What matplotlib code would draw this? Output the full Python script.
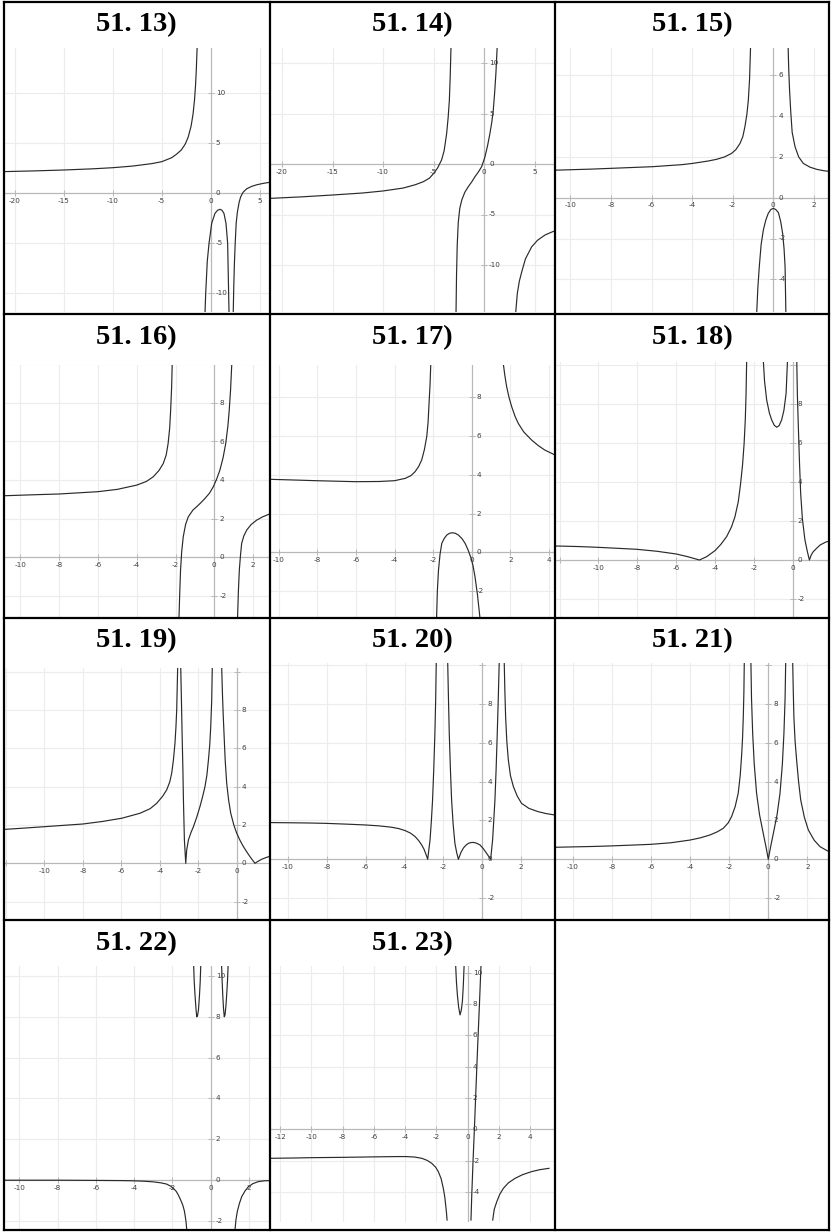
import matplotlib
matplotlib.use("Agg")
import matplotlib.pyplot as plt
from matplotlib.lines import Line2D
from matplotlib.transforms import offset_copy

# ---------------- data ----------------
# 51.13
x13a = [-21.0, -18, -15, -12, -10, -8, -6, -5, -4, -3.5, -3.0, -2.6, -2.3, -2.0, -1.8, -1.65, -1.55, -1.47, -1.4, -1.35]
y13a = [2.17, 2.24, 2.33, 2.45, 2.56, 2.72, 2.97, 3.16, 3.55, 3.9, 4.33, 4.92, 5.61, 6.72, 7.93, 9.35, 10.75, 12.3, 14.2, 15.5]
x13b = [-0.58, -0.51, -0.35, -0.17, 0.1, 0.44, 0.7, 0.95, 1.15, 1.35, 1.56, 1.73, 1.83, 1.87]
y13b = [-11.9, -10, -6.8, -5, -3, -2, -1.7, -1.6, -1.7, -2, -3, -5, -10, -11.9]
x13c = [2.3, 2.35, 2.42, 2.5, 2.6, 2.72, 2.9, 3.06, 3.3, 3.67, 4.2, 4.69, 5.3, 6.0]
y13c = [-11.9, -9.5, -7, -5, -3, -1.9, -0.9, -0.35, 0.1, 0.45, 0.7, 0.85, 0.98, 1.1]
# 51.14
x14a = [-21.1, -18, -15, -12, -10, -8, -6.8, -6, -5.4, -5, -4.6, -4.2, -3.95, -3.7, -3.55, -3.43, -3.35, -3.27]
y14a = [-3.4, -3.25, -3.07, -2.87, -2.67, -2.38, -2.05, -1.75, -1.4, -0.95, -0.4, 0.4, 1.3, 3.0, 4.6, 6.3, 8.5, 11.5]
x14b = [-2.77, -2.72, -2.65, -2.55, -2.4, -2.2, -1.9, -1.55, -1.2, -0.89, -0.55, -0.23, 0.1, 0.35, 0.59, 0.78, 0.92, 1.05, 1.18, 1.3]
y14b = [-14.7, -11, -8, -5.8, -4.4, -3.56, -2.8, -2.24, -1.75, -1.25, -0.78, -0.26, 0.73, 1.8, 3.04, 4.2, 5.35, 7.0, 9.0, 11.5]
x14c = [3.14, 3.3, 3.5, 3.73, 4.1, 4.72, 5.3, 6.04, 6.8, 7.52]
y14c = [-14.7, -12.8, -11.6, -10.7, -9.4, -8.2, -7.55, -7.03, -6.7, -6.47]
# 51.15
x15a = [-10.72, -9, -7.98, -5.95, -4.5, -3.98, -3.2, -2.8, -2.4, -2.06, -1.85, -1.64, -1.5, -1.4, -1.3, -1.23, -1.17, -1.12]
y15a = [1.35, 1.4, 1.44, 1.52, 1.62, 1.68, 1.8, 1.88, 2.0, 2.17, 2.35, 2.66, 3.0, 3.47, 4.1, 4.78, 5.8, 7.4]
x15b = [0.73, 0.76, 0.8, 0.86, 0.93, 1.07, 1.25, 1.48, 1.8, 2.14, 2.5, 2.94]
y15b = [7.4, 6.3, 5.3, 4.2, 3.2, 2.5, 2.0, 1.68, 1.5, 1.39, 1.32, 1.27]
x15c = [-0.82, -0.76, -0.69, -0.6, -0.49, -0.37, -0.25, -0.12, 0.0, 0.12, 0.25, 0.36, 0.46, 0.53, 0.58, 0.62]
y15c = [-5.7, -4.4, -3.38, -2.3, -1.58, -1.1, -0.77, -0.58, -0.52, -0.58, -0.73, -1.15, -1.75, -2.5, -3.38, -5.7]
# 51.16
x16a = [-10.81, -9, -8, -6, -5, -4, -3.5, -3.15, -2.85, -2.63, -2.48, -2.38, -2.3, -2.25, -2.2, -2.17]
y16a = [3.19, 3.25, 3.28, 3.40, 3.52, 3.74, 3.93, 4.17, 4.5, 4.86, 5.3, 5.9, 6.7, 7.62, 8.8, 10.0]
x16b = [-1.82, -1.78, -1.74, -1.68, -1.6, -1.48, -1.34, -1.1, -0.91, -0.7, -0.48, -0.25, -0.05, 0.12, 0.29, 0.45, 0.59, 0.7, 0.77, 0.84, 0.9]
y16b = [-3.1, -1.8, -0.66, 0.3, 1.07, 1.7, 2.1, 2.45, 2.62, 2.82, 3.05, 3.32, 3.66, 4.05, 4.52, 5.15, 5.9, 6.8, 7.62, 8.7, 10.0]
x16c = [1.2, 1.24, 1.29, 1.35, 1.41, 1.52, 1.67, 1.9, 2.19, 2.5, 2.84]
y16c = [-3.1, -1.8, -0.66, 0.1, 0.72, 1.1, 1.41, 1.7, 1.93, 2.1, 2.24]
# 51.17
x17a = [-10.4, -9, -8.02, -6, -4.8, -4.0, -3.45, -3.15, -2.93, -2.75, -2.59, -2.45, -2.33, -2.26, -2.21, -2.16, -2.12]
y17a = [3.76, 3.72, 3.69, 3.64, 3.65, 3.69, 3.81, 3.95, 4.16, 4.42, 4.76, 5.3, 5.96, 6.7, 7.68, 8.6, 9.7]
x17b = [-1.82, -1.78, -1.72, -1.64, -1.55, -1.42, -1.29, -1.15, -1.0, -0.85, -0.69, -0.5, -0.34, -0.18, -0.03, 0.07, 0.17, 0.3, 0.43]
y17b = [-3.4, -2.0, -0.91, -0.1, 0.46, 0.72, 0.89, 0.98, 1.01, 0.98, 0.89, 0.7, 0.46, 0.1, -0.31, -0.7, -1.25, -2.2, -3.4]
x17c = [1.64, 1.72, 1.81, 1.93, 2.07, 2.25, 2.41, 2.7, 3.1, 3.45, 3.79, 4.31]
y17c = [9.7, 9.1, 8.54, 8.0, 7.51, 7.0, 6.65, 6.2, 5.79, 5.5, 5.27, 5.02]
# 51.18
x18a = [-12.18, -11, -10, -9, -8.03, -7, -6, -5.4, -4.8, -4.43, -4.0, -3.7, -3.4, -3.15, -2.97, -2.8, -2.68, -2.58, -2.5, -2.44, -2.4, -2.37]
y18a = [0.72, 0.69, 0.65, 0.6, 0.55, 0.45, 0.31, 0.17, 0.0, 0.17, 0.48, 0.8, 1.2, 1.7, 2.23, 3.0, 3.94, 4.9, 5.99, 7.2, 8.56, 10.2]
x18b = [-1.51, -1.45, -1.34, -1.2, -1.08, -0.95, -0.82, -0.7, -0.57, -0.45, -0.34, -0.27]
y18b = [10.2, 9.2, 8.22, 7.55, 7.19, 6.92, 6.82, 6.9, 7.19, 7.7, 8.56, 10.2]
x18c = [0.21, 0.24, 0.29, 0.35, 0.41, 0.5, 0.63, 0.75, 0.86, 0.95, 1.06, 1.25, 1.41, 1.7, 2.08]
y18c = [10.2, 8.5, 6.85, 5.0, 3.42, 2.1, 1.03, 0.45, 0.0, 0.25, 0.43, 0.62, 0.77, 0.92, 1.03]
# 51.19
x19a = [-12.05, -11, -10, -9, -8, -7, -5.98, -5.03, -4.5, -4.16, -3.85, -3.64, -3.48, -3.38, -3.29, -3.21, -3.16, -3.12, -3.07]
y19a = [1.77, 1.84, 1.91, 1.98, 2.05, 2.18, 2.35, 2.61, 2.85, 3.13, 3.5, 3.83, 4.25, 4.7, 5.4, 6.26, 7.1, 8.0, 10.2]
x19b = [-2.91, -2.87, -2.84, -2.8, -2.77, -2.72, -2.65, -2.6, -2.51, -2.38, -2.25, -2.08, -1.91, -1.78, -1.65, -1.55, -1.47, -1.4, -1.35, -1.3, -1.27]
y19b = [10.2, 8.3, 6.78, 5.0, 3.3, 1.22, 0.0, 0.7, 1.22, 1.6, 1.91, 2.4, 2.96, 3.45, 4.0, 4.6, 5.39, 6.2, 7.13, 8.5, 10.2]
x19c = [-0.78, -0.74, -0.7, -0.66, -0.6, -0.52, -0.42, -0.31, -0.15, 0.0, 0.18, 0.35, 0.52, 0.69, 0.82, 0.95, 1.1, 1.3, 1.5, 1.68]
y19c = [10.2, 8.8, 7.7, 6.78, 5.4, 4.17, 3.3, 2.61, 2.0, 1.57, 1.18, 0.87, 0.6, 0.35, 0.17, 0.0, 0.1, 0.21, 0.29, 0.35]
# 51.20
x20a = [-10.87, -9, -8.06, -7, -6.07, -5.3, -4.67, -4.3, -3.98, -3.7, -3.46, -3.28, -3.12, -3.0, -2.92, -2.86, -2.81, -2.75, -2.69, -2.62, -2.56, -2.5, -2.44, -2.4, -2.37]
y20a = [1.89, 1.87, 1.85, 1.81, 1.77, 1.72, 1.65, 1.58, 1.48, 1.35, 1.17, 0.97, 0.74, 0.52, 0.31, 0.15, 0.0, 0.5, 0.99, 2.0, 3.05, 4.6, 6.48, 8.2, 10.1]
x20b = [-1.78, -1.74, -1.7, -1.64, -1.58, -1.5, -1.41, -1.32, -1.23, -1.1, -0.98, -0.85, -0.72, -0.59, -0.46, -0.3, -0.12, 0.05, 0.22, 0.33, 0.43, 0.48, 0.53, 0.59, 0.65, 0.71, 0.77, 0.82, 0.87]
y20b = [10.1, 8.2, 6.48, 4.6, 3.05, 1.8, 0.82, 0.35, 0.0, 0.35, 0.57, 0.72, 0.82, 0.86, 0.87, 0.83, 0.74, 0.55, 0.31, 0.15, 0.0, 0.5, 0.99, 2.0, 3.05, 4.6, 6.48, 8.2, 10.1]
x20c = [1.13, 1.16, 1.2, 1.26, 1.34, 1.45, 1.6, 1.8, 2.02, 2.4, 2.88, 3.3, 3.74]
y20c = [10.1, 8.7, 7.34, 6.1, 5.11, 4.3, 3.74, 3.25, 2.88, 2.62, 2.45, 2.35, 2.28]
# 51.21
x21a = [-10.87, -9, -8.02, -7, -6.02, -5, -4.01, -3.5, -2.99, -2.6, -2.3, -2.05, -1.88, -1.7, -1.54, -1.44, -1.37, -1.32, -1.28, -1.25, -1.23]
y21a = [0.62, 0.66, 0.69, 0.73, 0.77, 0.85, 0.99, 1.1, 1.25, 1.42, 1.6, 1.88, 2.2, 2.7, 3.4, 4.3, 5.28, 6.2, 7.34, 8.6, 10.1]
x21b = [-0.89, -0.86, -0.8, -0.72, -0.6, -0.45, -0.26, -0.12, 0.0, 0.12, 0.26, 0.45, 0.6, 0.72, 0.8, 0.86, 0.89]
y21b = [10.1, 8.3, 6.48, 4.9, 3.4, 2.3, 1.34, 0.65, 0.0, 0.65, 1.34, 2.3, 3.4, 4.9, 6.48, 8.3, 10.1]
x21c = [1.25, 1.28, 1.31, 1.37, 1.45, 1.55, 1.66, 1.85, 2.05, 2.35, 2.65, 3.0, 3.31]
y21c = [10.1, 8.6, 7.34, 6.1, 5.11, 4.0, 3.05, 2.15, 1.51, 0.98, 0.65, 0.45, 0.31]
# 51.22
x22a = [-10.75, -8, -6, -4.6, -4.0, -3.5, -3.0, -2.6, -2.3, -2.1, -1.95, -1.8, -1.69, -1.57, -1.46, -1.38, -1.34, -1.29, -1.25]
y22a = [-0.01, -0.01, -0.02, -0.03, -0.04, -0.06, -0.09, -0.14, -0.2, -0.3, -0.41, -0.56, -0.74, -0.98, -1.23, -1.5, -1.72, -2.05, -2.45]
x22b = [-0.89, -0.86, -0.82, -0.77, -0.73, -0.69, -0.64, -0.59, -0.55, -0.52]
y22b = [10.5, 9.7, 9.07, 8.4, 8.0, 8.05, 8.33, 9.0, 9.7, 10.5]
x22c = [0.57, 0.6, 0.63, 0.67, 0.71, 0.75, 0.8, 0.85, 0.88, 0.91]
y22c = [10.5, 9.7, 9.07, 8.4, 8.0, 8.1, 8.58, 9.3, 9.8, 10.5]
x22d = [1.27, 1.32, 1.39, 1.5, 1.62, 1.8, 1.97, 2.2, 2.49, 2.8, 3.06]
y22d = [-2.45, -1.95, -1.55, -1.15, -0.82, -0.53, -0.33, -0.18, -0.08, -0.04, -0.03]
# 51.23
x23a = [-12.58, -11, -9.98, -8, -6, -4.5, -3.97, -3.4, -2.94, -2.6, -2.3, -2.05, -1.88, -1.7, -1.56, -1.47, -1.41, -1.36, -1.32]
y23a = [-1.85, -1.83, -1.81, -1.79, -1.76, -1.74, -1.74, -1.77, -1.85, -1.98, -2.17, -2.42, -2.7, -3.15, -3.77, -4.3, -4.83, -5.3, -5.79]
x23b = [-0.77, -0.72, -0.66, -0.58, -0.49, -0.41, -0.34, -0.28, -0.23]
y23b = [10.45, 9.4, 8.57, 7.8, 7.3, 7.6, 8.15, 9.2, 10.45]
x23c = [0.85, 0.75, 0.64, 0.53, 0.43, 0.34, 0.26, 0.21]
y23c = [10.45, 7.94, 5.38, 2.62, 0.06, -2.06, -4.19, -5.79]
x23d = [1.6, 1.7, 1.86, 2.05, 2.28, 2.6, 3.03, 3.5, 4.09, 4.6, 5.2]
y23d = [-5.79, -5.1, -4.62, -4.15, -3.77, -3.42, -3.13, -2.9, -2.7, -2.58, -2.49]

titles = ["51. 13)", "51. 14)", "51. 15)", "51. 16)", "51. 17)", "51. 18)",
          "51. 19)", "51. 20)", "51. 21)", "51. 22)", "51. 23)"]
xlabel_ticks = [[-20, -15, -10, -5, 0, 5], [-20, -15, -10, -5, 0, 5], [-10, -8, -6, -4, -2, 0, 2],
                [-10, -8, -6, -4, -2, 0, 2], [-10, -8, -6, -4, -2, 0, 2, 4], [-10, -8, -6, -4, -2, 0],
                [-10, -8, -6, -4, -2, 0], [-10, -8, -6, -4, -2, 0, 2], [-10, -8, -6, -4, -2, 0, 2],
                [-10, -8, -6, -4, -2, 0, 2], [-12, -10, -8, -6, -4, -2, 0, 2, 4]]
ylabel_ticks = [[-10, -5, 0, 5, 10], [-10, -5, 0, 5, 10], [-4, -2, 0, 2, 4, 6],
                [-2, 0, 2, 4, 6, 8], [-2, 0, 2, 4, 6, 8], [-2, 0, 2, 4, 6, 8],
                [-2, 0, 2, 4, 6, 8], [-2, 0, 2, 4, 6, 8], [-2, 0, 2, 4, 6, 8],
                [-2, 0, 2, 4, 6, 8, 10], [-4, -2, 0, 2, 4, 6, 8, 10]]
branches = [
    [(x13a, y13a), (x13b, y13b), (x13c, y13c)],
    [(x14a, y14a), (x14b, y14b), (x14c, y14c)],
    [(x15a, y15a), (x15b, y15b), (x15c, y15c)],
    [(x16a, y16a), (x16b, y16b), (x16c, y16c)],
    [(x17a, y17a), (x17b, y17b), (x17c, y17c)],
    [(x18a, y18a), (x18b, y18b), (x18c, y18c)],
    [(x19a, y19a), (x19b, y19b), (x19c, y19c)],
    [(x20a, y20a), (x20b, y20b), (x20c, y20c)],
    [(x21a, y21a), (x21b, y21b), (x21c, y21c)],
    [(x22a, y22a), (x22b, y22b), (x22c, y22c), (x22d, y22d)],
    [(x23a, y23a), (x23b, y23b), (x23c, y23c), (x23d, y23d)],
]

# ---------------- layout (pixels) ----------------
W, H = 833, 1232
# plot rect (l, t, r, b), origin pixel (x0, y0), pixels per unit (sx, sy), grid step (gx, gy)
layout = [
    ((5, 48, 269, 312), (210.7, 193.3), (9.8, 10.0), (5, 5)),
    ((271, 48, 555, 312), (484.0, 164.0), (10.1, 10.1), (5, 5)),
    ((556, 48, 828, 312), (773.3, 197.7), (20.3, 20.4), (2, 2)),
    ((5, 365, 269, 617), (214.3, 557.3), (19.4, 19.3), (2, 2)),
    ((271, 365, 555, 617), (471.7, 552.3), (19.3, 19.4), (2, 2)),
    ((556, 362, 828, 617), (792.7, 560.0), (19.43, 19.47), (2, 2)),
    ((5, 668, 269, 919), (236.7, 863.3), (19.23, 19.17), (2, 2)),
    ((271, 663, 555, 919), (482.3, 859.3), (19.43, 19.43), (2, 2)),
    ((556, 663, 828, 919), (768.3, 859.3), (19.53, 19.43), (2, 2)),
    ((5, 966, 269, 1229), (210.7, 1180.0), (19.13, 20.4), (2, 2)),
    ((271, 966, 555, 1222), (467.7, 1129.3), (15.63, 15.67), (2, 2)),
]
col_lines = [3.5, 269.5, 555, 829]
row_lines = [2, 314, 618, 920, 1230]
title_baselines = [31, 344.5, 647.5, 950]

fig = plt.figure(figsize=(W / 100, H / 100), dpi=100)
fig.patch.set_facecolor("white")

GRID_C = "#ececec"
AXIS_C = "#b8b8b8"
LABEL_C = "#404040"
CURVE_C = "#2a2a2a"

for i in range(11):
    (l, t, r, b), (x0, y0), (sx, sy), (gx, gy) = layout[i]
    ax = fig.add_axes([l / W, 1 - b / H, (r - l) / W, (b - t) / H])
    xmin, xmax = (l - x0) / sx, (r - x0) / sx
    ymin, ymax = (y0 - b) / sy, (y0 - t) / sy
    ax.set_xlim(xmin, xmax)
    ax.set_ylim(ymin, ymax)
    ax.set_axis_off()
    # grid
    k = int(xmin // gx) - 1
    while k * gx <= xmax + gx:
        if k != 0:
            ax.axvline(k * gx, color=GRID_C, lw=0.8, zorder=0)
        k += 1
    k = int(ymin // gy) - 1
    while k * gy <= ymax + gy:
        if k != 0:
            ax.axhline(k * gy, color=GRID_C, lw=0.8, zorder=0)
        k += 1
    # axes
    ax.axhline(0, color=AXIS_C, lw=0.9, zorder=1)
    ax.axvline(0, color=AXIS_C, lw=0.9, zorder=1)
    # tick marks
    k = int(xmin // gx) - 1
    while k * gx <= xmax + gx:
        ax.plot([k * gx], [0], marker="|", ms=4.5, mew=0.7, color=AXIS_C, zorder=1, clip_on=True)
        k += 1
    k = int(ymin // gy) - 1
    while k * gy <= ymax + gy:
        ax.plot([0], [k * gy], marker="_", ms=4.5, mew=0.7, color=AXIS_C, zorder=1, clip_on=True)
        k += 1
    # tick labels
    tx = offset_copy(ax.transData, fig=fig, x=0, y=-4.5, units="dots")
    for v in xlabel_ticks[i]:
        ax.text(v, 0, str(v), transform=tx, ha="center", va="top", fontsize=5.2,
                color=LABEL_C, clip_on=True, zorder=3)
    ty = offset_copy(ax.transData, fig=fig, x=5, y=0, units="dots")
    for v in ylabel_ticks[i]:
        ax.text(0, v, str(v), transform=ty, ha="left", va="center", fontsize=5.2,
                color=LABEL_C, clip_on=True, zorder=3)
    # curves
    for bx, by in branches[i]:
        ax.plot(bx, by, color=CURVE_C, lw=0.85, zorder=2, solid_joinstyle="round")

# titles
for i, ttl in enumerate(titles):
    row, col = divmod(i, 3)
    cx = (col_lines[col] + col_lines[col + 1]) / 2
    fig.text(cx / W, 1 - title_baselines[row] / H, ttl, ha="center", va="baseline",
             fontsize=20.5, fontweight="bold", family=["Liberation Serif", "DejaVu Serif"],
             color="black")

# table borders
for xv in col_lines:
    fig.add_artist(Line2D([xv / W, xv / W], [1 - row_lines[0] / H, 1 - row_lines[-1] / H],
                          color="black", lw=1.6, transform=fig.transFigure))
for yv in row_lines:
    fig.add_artist(Line2D([col_lines[0] / W, col_lines[-1] / W], [1 - yv / H, 1 - yv / H],
                          color="black", lw=1.6, transform=fig.transFigure))

fig.savefig("out.png", dpi=100, facecolor="white")
